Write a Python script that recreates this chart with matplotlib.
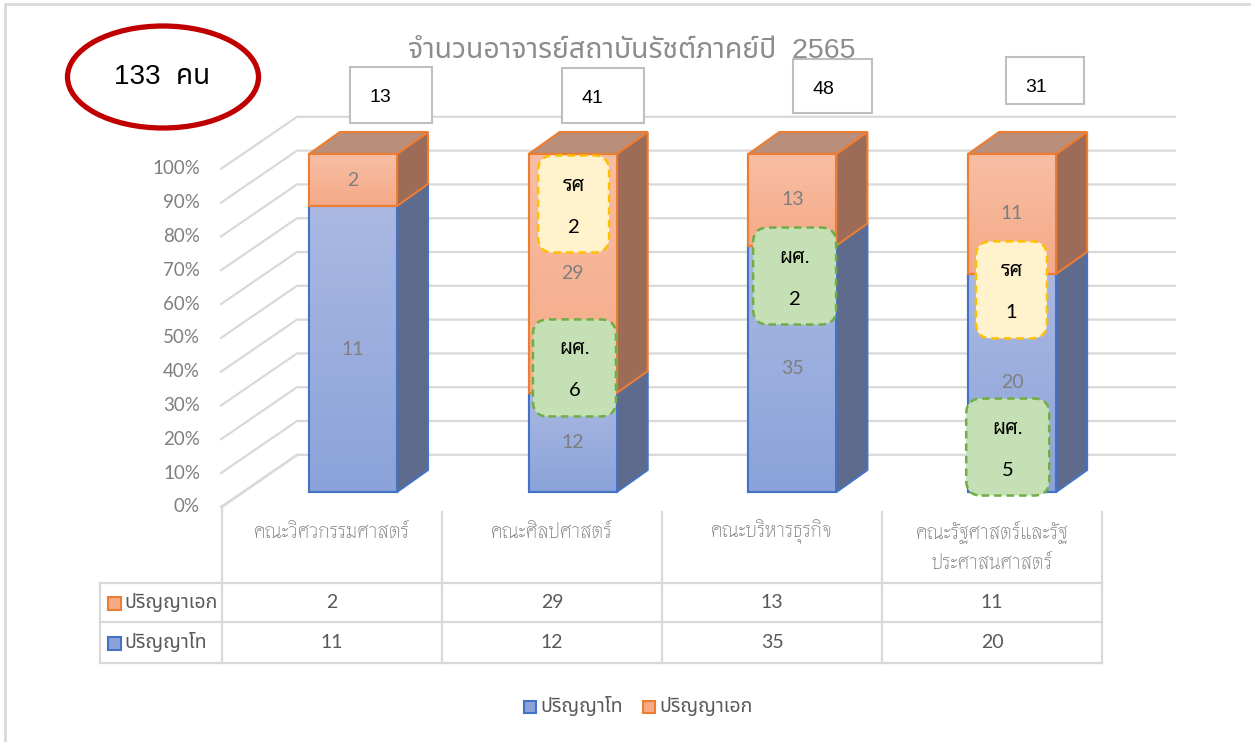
import numpy as np
import matplotlib
matplotlib.use('Agg')
import matplotlib.pyplot as plt
from matplotlib.patches import Polygon, FancyBboxPatch, Rectangle, Ellipse
from matplotlib.colors import LinearSegmentedColormap

# Data
faculties = ['คณะวิศวกรรมศาสตร์', 'คณะศิลปศาสตร์', 'คณะบริหารธุรกิจ',
             'คณะรัฐศาสตร์และรัฐ\nประศาสนศาสตร์']
series_names = ['ปริญญาโท', 'ปริญญาเอก']
master = np.array([11, 12, 35, 20])
doctor = np.array([2, 29, 13, 11])
totals = [13, 41, 48, 31]
grand_total = 133
title = 'จำนวนอาจารย์สถาบันรัชต์ภาคย์ปี  2565'
yticks = [0, 10, 20, 30, 40, 50, 60, 70, 80, 90, 100]

# academic rank notes drawn on the bars
note_fac = [1, 1, 2, 3, 3]
note_rank = ['รศ', 'ผศ.', 'ผศ.', 'รศ', 'ผศ.']
note_count = [2, 6, 2, 1, 5]

# fonts
TH = ['Noto Sans Thai', 'DejaVu Sans']
TH_THIN = ['Thasadith', 'Noto Sans Thai', 'DejaVu Sans']
NUM = ['Lato', 'Noto Sans Thai', 'DejaVu Sans']
ARIAL = ['Liberation Sans', 'Noto Sans Thai', 'DejaVu Sans']
NOTE = ['Lato', 'Noto Sans Thai Looped', 'DejaVu Sans']
plt.rcParams['font.family'] = NUM

W, H = 1251, 742
fig = plt.figure(figsize=(W / 100, H / 100), dpi=100)
ax = fig.add_axes([0, 0, 1, 1])
X0, XS = 353, 219.7   # pixel x of first category, pixels per category
Y0, YS = 492, 3.38    # pixel y of 0 %, pixels per percent
ax.set_xlim(-X0 / XS, (W - X0) / XS)
ax.set_ylim((Y0 - H) / YS, Y0 / YS)
ax.axis('off')


def P(px, py):
    # layout helper: pixel position -> data position
    return (px - X0) / XS, (Y0 - py) / YS


grid_c = '#d9d9d9'
# outer frame
ax.plot(*zip(P(5, 742), P(5, 4), P(1251, 4)), color=grid_c, lw=2, clip_on=False)

# back wall / side wall gridlines
fx, bx, rx = P(221, 0)[0], P(297, 0)[0], P(1175, 0)[0]
front_dv, back_dv = -4.4, 11.0
for t in yticks:
    ax.plot([fx, bx, rx], [t + front_dv, t + back_dv, t + back_dv],
            color=grid_c, lw=1.6, zorder=1)
    ax.text(P(200, 0)[0], t + front_dv, f'{t}%', ha='right', va='center',
            fontsize=13.5, color='#7f7f7f')

# stacked 100% bars
x = np.arange(len(faculties))
tot = master + doctor
pm = master / tot * 100
pd_ = doctor / tot * 100
bw = 88 / XS
DX, DY = 31 / XS, 22 / YS

front = {'m': ('#aab8e2', '#8ba3da'), 'd': ('#f8bea4', '#f4aa87')}
side = {'m': '#5f6b8c', 'd': '#9c6c58'}
edge = {'m': '#4472c4', 'd': '#ed7d31'}

bars_m = ax.bar(x, pm, bw, color=front['m'][1], edgecolor=edge['m'], lw=1.5, zorder=3)
bars_d = ax.bar(x, pd_, bw, bottom=pm, color=front['d'][1], edgecolor=edge['d'], lw=1.5, zorder=3)

for key, bars in (('m', bars_m), ('d', bars_d)):
    cmap = LinearSegmentedColormap.from_list(key, [front[key][1], front[key][0]])
    for p in bars:
        x0, y0, w, h = p.get_x(), p.get_y(), p.get_width(), p.get_height()
        x1, y1 = x0 + w, y0 + h
        ax.add_patch(Polygon([(x1, y0), (x1 + DX, y0 + DY), (x1 + DX, y1 + DY), (x1, y1)],
                             closed=True, fc=side[key], ec=edge[key], lw=1.5, zorder=2.9))
        grad = np.linspace(0, 1, 100).reshape(-1, 1)
        ax.imshow(grad, extent=[x0, x1, y0, y1], origin='lower', cmap=cmap,
                  aspect='auto', zorder=3.1)
        ax.add_patch(Rectangle((x0, y0), w, h, fill=False, ec=edge[key], lw=1.5, zorder=3.2))
        if key == 'd':
            ax.add_patch(Polygon([(x0, y1), (x0 + DX, y1 + DY), (x1 + DX, y1 + DY), (x1, y1)],
                                 closed=True, fc='#b98e7a', ec=edge[key], lw=1.5, zorder=2.9))

for i in x:
    ax.text(i, pm[i] / 2, str(master[i]), ha='center', va='center',
            fontsize=14, color='#7f7f7f', zorder=4)
    ax.text(i, pm[i] + pd_[i] / 2, str(doctor[i]), ha='center', va='center',
            fontsize=14, color='#7f7f7f', zorder=4)

ax.set_xlim(-X0 / XS, (W - X0) / XS)
ax.set_ylim((Y0 - H) / YS, Y0 / YS)

# rank notes (dashed rounded boxes)
note_y = [85.2, 36.7, 63.9, 59.8, 13.3]
note_dx = [0.004, 0.008, 0.01, -0.003, -0.02]
for k in range(len(note_fac)):
    rs = note_rank[k].startswith('ร')
    w = (71 if rs else 83) / XS
    h = 97 / YS
    cx, cy = note_fac[k] + note_dx[k], note_y[k]
    ax.add_patch(FancyBboxPatch((cx - w / 2, cy - h / 2), w, h,
                                boxstyle='round,pad=0,rounding_size=0.07',
                                mutation_aspect=XS / YS,
                                fc='#fff2cc' if rs else '#c5e0b4',
                                ec='#ffc000' if rs else '#70ad47',
                                ls=(0, (3, 2)), lw=1.8, zorder=5))
    ax.text(cx, cy + 19 / YS, note_rank[k], ha='center', va='center',
            fontsize=14.5, color='black', zorder=6, family=NOTE)
    ax.text(cx, cy - 23 / YS, str(note_count[k]), ha='center', va='center',
            fontsize=14.5, color='black', zorder=6, family=NOTE)

# total boxes above the bars
box_px = [(350, 67, 82, 56), (562, 68, 82, 55), (793, 59, 79, 54), (1006, 57, 78, 47)]
for k, (bx0, by0, bw0, bh0) in enumerate(box_px):
    x0, y0 = P(bx0, by0 + bh0)
    ax.add_patch(Rectangle((x0, y0), bw0 / XS, bh0 / YS, fc='white', ec='#bfbfbf',
                           lw=1.5, zorder=5))
    ax.text(*P(bx0 + 30, by0 + 30), str(totals[k]), ha='center', va='center',
            fontsize=14, color='black', zorder=6, family=ARIAL)

# grand total in red ellipse
ax.add_patch(Ellipse(P(163, 77), 191 / XS, 102 / YS, fill=False, ec='#c00000', lw=3.8,
                     zorder=5))
ax.text(*P(162, 77), f'{grand_total}  คน', ha='center', va='center', fontsize=20,
        color='black', zorder=6, family=ARIAL)

# title
ax.text(*P(632, 51), title, ha='center', va='center', fontsize=20.5, color='#8c8c8c',
        family=ARIAL)

# data table
col_edges = [222, 442, 662, 882, 1102]
row_lines = [583, 622, 663]
for cxp in col_edges:
    ax.plot(*zip(P(cxp, 507 if cxp == 222 else 512), P(cxp, 663)), color=grid_c, lw=1.6)
ax.plot(*zip(P(222, 507), P(297, 455)), color=grid_c, lw=1.6)
for ryp in row_lines:
    ax.plot(*zip(P(100, ryp), P(1102, ryp)), color=grid_c, lw=1.6)
ax.plot(*zip(P(100, 583), P(100, 663)), color=grid_c, lw=1.6)

for i, lab in enumerate(faculties):
    cxp = (col_edges[i] + col_edges[i + 1]) / 2
    for j, line in enumerate(lab.split('\n')):
        ax.text(*P(cxp, 532 + 31 * j), line, ha='center', va='center', fontsize=15,
                color='#7f7f7f', family=TH_THIN)
    ax.text(*P(cxp, 603), str(doctor[i]), ha='center', va='center', fontsize=14,
            color='#595959')
    ax.text(*P(cxp, 643), str(master[i]), ha='center', va='center', fontsize=14,
            color='#595959')

sw = 13
for ryc, key, name in ((603, 'd', series_names[1]), (643, 'm', series_names[0])):
    x0, y0 = P(108, ryc + sw / 2)
    ax.add_patch(Rectangle((x0, y0), sw / XS, sw / YS, fc=front[key][1], ec=edge[key], lw=1.5))
    ax.text(*P(124, ryc), name, ha='left', va='center', fontsize=14, color='#595959',
            family=TH)

# legend
for lxp, key, name in ((524, 'm', series_names[0]), (643, 'd', series_names[1])):
    x0, y0 = P(lxp, 707 + 6)
    ax.add_patch(Rectangle((x0, y0), 12 / XS, 12 / YS, fc=front[key][1], ec=edge[key], lw=1.5))
    ax.text(*P(lxp + 16, 707), name, ha='left', va='center', fontsize=14, color='#595959',
            family=TH)

fig.savefig('out.png', dpi=100)
